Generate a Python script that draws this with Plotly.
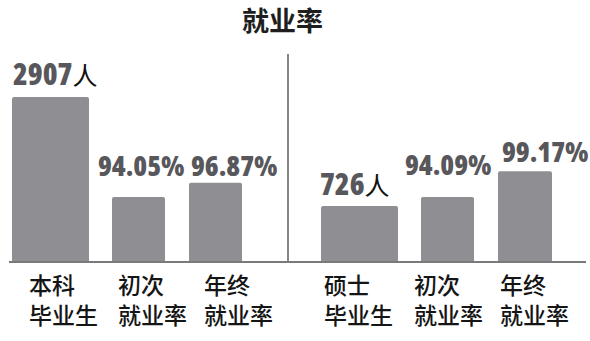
import math
import plotly.graph_objects as go

# ---------------- data ----------------
title_text = "就业率"
label_line1 = ["本科", "初次", "年终", "硕士", "初次", "年终"]
label_line2 = ["毕业生", "就业率", "就业率", "毕业生", "就业率", "就业率"]
graduates = [2907, 726]               # 本科毕业生, 硕士毕业生 (人)
rates = [94.05, 96.87, 94.09, 99.17]  # 本科初次/年终, 硕士初次/年终 (%)

# ---------------- layout (pixel based) ----------------
W, H = 590, 341
BOTTOM = 261                 # plot-area bottom in pixels
PLOT_H = BOTTOM
x_count = [50.5, 359.5]
w_count = [77, 77]
x_rate = [138.5, 215.5, 447.5, 525.0]
w_rate = [53, 53, 53, 54]
bar_color = "#8f8f93"

def py(y_pix):
    return (BOTTOM - y_pix) / PLOT_H

NUM_FONT = "Open Sans, Roboto, sans-serif"
CJK_FONT = "Noto Sans CJK SC, Noto Sans, sans-serif"
NUM_COLOR = "#58585c"

fig = go.Figure()
fig.add_trace(go.Bar(x=x_count, y=graduates, width=w_count, yaxis="y2",
                     marker=dict(color=bar_color, line=dict(width=0), cornerradius=2),
                     hoverinfo="skip"))
fig.add_trace(go.Bar(x=x_rate, y=rates, width=w_rate, yaxis="y",
                     marker=dict(color=bar_color, line=dict(width=0), cornerradius=2),
                     hoverinfo="skip"))

annotations = []
# value labels
count_left = [11, 318]
count_gap = [9, 8]
for v, xl, g in zip(graduates, count_left, count_gap):
    annotations.append(dict(
        x=xl, y=math.log10(v), xref="x", yref="y2", xanchor="left", yanchor="bottom",
        yshift=g - 8, showarrow=False,
        text=(f"<span style='font-stretch:condensed'>{v}</span>"
              "<span style='font-family:Noto Sans CJK SC;color:#111111;font-size:25px;"
              "font-weight:400'>人</span>"),
        font=dict(family=NUM_FONT, size=30, color=NUM_COLOR, weight=800)))
rate_left = [96, 189, 403, 500]
rate_text_bottom = [178, 178, 177, 164]
for v, xl, tb in zip(rates, rate_left, rate_text_bottom):
    annotations.append(dict(
        x=xl, y=py(tb), xref="x", yref="paper", xanchor="left", yanchor="bottom",
        yshift=-8, showarrow=False,
        text=f"<span style='font-stretch:condensed'>{v:.2f}%</span>",
        font=dict(family=NUM_FONT, size=28, color=NUM_COLOR, weight=800)))

# category labels
cat_left = [27, 116, 202, 322, 412, 498]
for l1, l2, xl in zip(label_line1, label_line2, cat_left):
    annotations.append(dict(x=xl, y=py(299), xref="x", yref="paper", xanchor="left",
                            yanchor="middle", align="left", showarrow=False,
                            text=f"{l1}<br>{l2}",
                            font=dict(family=CJK_FONT, size=23, color="#151515", weight=500)))

# title
annotations.append(dict(x=282, y=py(20), xref="x", yref="paper", xanchor="center",
                        yanchor="middle", showarrow=False, text=title_text,
                        font=dict(family=CJK_FONT, size=27, color="#1e1e1e", weight=700)))

shapes = [
    dict(type="line", xref="x", yref="paper", x0=9, x1=586, y0=py(262), y1=py(262),
         line=dict(color="#7a7a7a", width=2)),
    dict(type="line", xref="x", yref="paper", x0=288, x1=288, y0=py(262), y1=py(54),
         line=dict(color="#858585", width=2)),
]

fig.update_layout(
    width=W, height=H,
    margin=dict(l=0, r=0, t=0, b=H - BOTTOM, pad=0),
    paper_bgcolor="white", plot_bgcolor="white",
    showlegend=False, barmode="overlay",
    xaxis=dict(range=[0, W], visible=False, fixedrange=True),
    yaxis=dict(range=[81.42, 81.42 + PLOT_H / 5.06], visible=False, fixedrange=True),
    yaxis2=dict(type="log", range=[2.5569, 2.5569 + PLOT_H / 180.9], overlaying="y",
                visible=False, fixedrange=True),
    annotations=annotations,
    shapes=shapes,
)

fig.write_html("out.html")
